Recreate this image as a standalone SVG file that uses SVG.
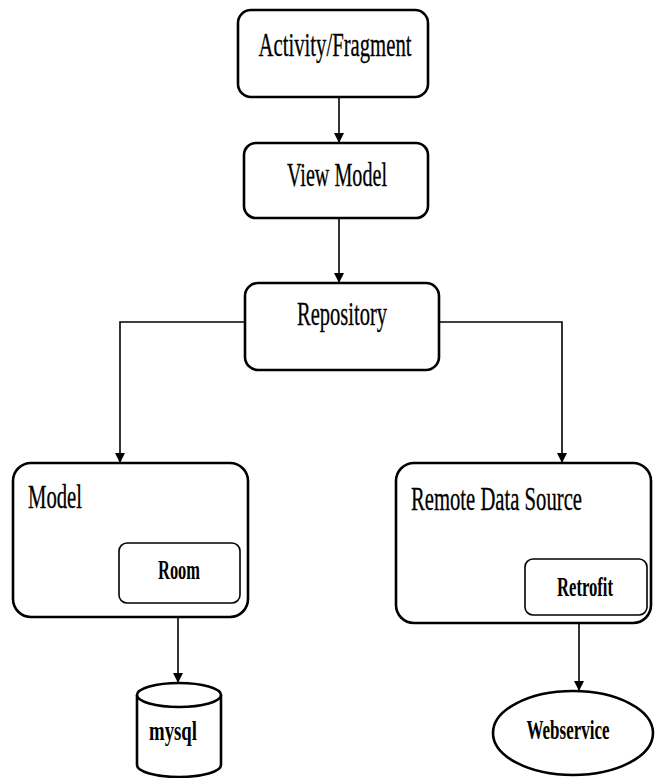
<svg xmlns="http://www.w3.org/2000/svg" width="655" height="778" viewBox="0 0 655 778">
<style>
.box{fill:#fff;stroke:#000;stroke-width:2.6}
.inner{fill:#fff;stroke:#000;stroke-width:1.6}
.lbl{font-family:"Liberation Serif","Times New Roman",serif;font-size:33px;fill:#000;stroke:#000;stroke-width:0.3}
.sm{font-family:"Liberation Serif","Times New Roman",serif;font-size:27px;font-weight:bold;fill:#000}
.con{fill:none;stroke:#000;stroke-width:1.6}
</style>
<defs>
<marker id="ah" markerWidth="10" markerHeight="12" refX="9" refY="5" orient="auto" markerUnits="userSpaceOnUse">
<path d="M0,0 L10,5 L0,10 z" fill="#000"/>
</marker>
</defs>
<rect width="655" height="778" fill="#fff"/>
<g id="connectors">
<line class="con" x1="339" y1="97" x2="339" y2="142" marker-end="url(#ah)"/>
<line class="con" x1="339" y1="218" x2="339" y2="282" marker-end="url(#ah)"/>
<polyline class="con" points="245,322 120,322 120,462" marker-end="url(#ah)"/>
<polyline class="con" points="439,322 562,322 562,462" marker-end="url(#ah)"/>
<line class="con" x1="178" y1="600" x2="178" y2="682" marker-end="url(#ah)"/>
<line class="con" x1="579" y1="613" x2="579" y2="690" marker-end="url(#ah)"/>
</g>
<g id="activity">
<rect class="box" x="238" y="10" width="190" height="87" rx="13"/>
<text class="lbl" transform="translate(335,56) scale(0.62,1)" text-anchor="middle" textLength="246.8" lengthAdjust="spacingAndGlyphs">Activity/Fragment</text>
</g>
<g id="viewmodel">
<rect class="box" x="244" y="143" width="184" height="75" rx="12"/>
<text class="lbl" transform="translate(337,186) scale(0.62,1)" text-anchor="middle" textLength="161.3" lengthAdjust="spacingAndGlyphs">View Model</text>
</g>
<g id="repository">
<rect class="box" x="245" y="283" width="194" height="87" rx="13"/>
<text class="lbl" transform="translate(342,325) scale(0.62,1)" text-anchor="middle" textLength="145.2" lengthAdjust="spacingAndGlyphs">Repository</text>
</g>
<g id="model">
<rect class="box" x="13" y="463" width="235" height="154" rx="18"/>
<text class="lbl" transform="translate(28,508) scale(0.62,1)" textLength="87.1" lengthAdjust="spacingAndGlyphs">Model</text>
</g>
<g id="room">
<rect class="inner" x="119" y="543" width="121" height="60" rx="8"/>
<text class="sm" transform="translate(179,579) scale(0.62,1)" text-anchor="middle" textLength="67.7" lengthAdjust="spacingAndGlyphs">Room</text>
</g>
<g id="remote">
<rect class="box" x="396" y="463" width="255" height="160" rx="18"/>
<text class="lbl" transform="translate(411,510) scale(0.62,1)" textLength="275.8" lengthAdjust="spacingAndGlyphs">Remote Data Source</text>
</g>
<g id="retrofit">
<rect class="inner" x="525" y="559" width="122" height="56" rx="8"/>
<text class="sm" transform="translate(585,596) scale(0.62,1)" text-anchor="middle" textLength="90.3" lengthAdjust="spacingAndGlyphs">Retrofit</text>
</g>
<g id="mysql">
<path class="box" d="M137,695 L137,765 A42,12 0 0 0 221,765 L221,695"/>
<ellipse class="box" cx="179" cy="695" rx="42" ry="12"/>
<text class="sm" transform="translate(173,740) scale(0.62,1)" text-anchor="middle" textLength="77.4" lengthAdjust="spacingAndGlyphs">mysql</text>
</g>
<g id="webservice">
<ellipse class="box" cx="573" cy="733" rx="80" ry="42"/>
<text class="sm" transform="translate(568,739) scale(0.62,1)" text-anchor="middle" textLength="133.9" lengthAdjust="spacingAndGlyphs">Webservice</text>
</g>
</svg>
